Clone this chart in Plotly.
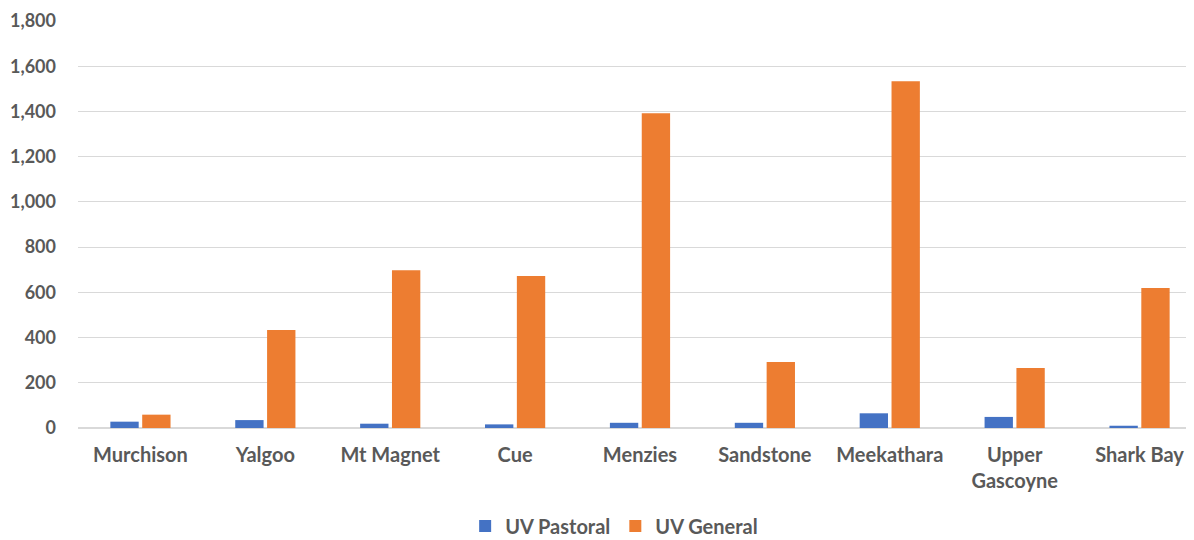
import plotly.graph_objects as go

categories = ["Murchison", "Yalgoo", "Mt Magnet", "Cue", "Menzies", "Sandstone",
              "Meekathara", "Upper<br>Gascoyne", "Shark Bay"]
uv_pastoral = [28, 35, 19, 16, 23, 23, 65, 49, 10]
uv_general = [59, 433, 698, 672, 1392, 292, 1534, 265, 619]
y_ticks = [0, 200, 400, 600, 800, 1000, 1200, 1400, 1600, 1800]

font_family = "Lato, Open Sans, sans-serif"
grey = "#595959"
fsize = 20

fig = go.Figure()
fig.add_trace(go.Bar(x=categories, y=uv_pastoral, name="UV Pastoral",
                     marker=dict(color="#4472C4", line=dict(width=0))))
fig.add_trace(go.Bar(x=categories, y=uv_general, name="UV General",
                     marker=dict(color="#ED7D31", line=dict(width=0))))

fig.update_layout(
    width=1194, height=540,
    barmode="group", bargap=0.49, bargroupgap=0.11,
    plot_bgcolor="white", paper_bgcolor="white",
    margin=dict(l=70, r=0, t=13, b=120, autoexpand=False),
    font=dict(family=font_family, size=fsize, color=grey),
    legend=dict(orientation="h", x=0.477, xanchor="center", y=-0.241, yanchor="middle",
                font=dict(family=font_family, size=fsize, color=grey, weight="bold"),
                itemwidth=30, tracegroupgap=0),
    showlegend=True,
)
fig.update_yaxes(range=[0, 1800], tickvals=y_ticks, tickformat=",",
                 showgrid=True, gridcolor="#d9d9d9", gridwidth=1,
                 zeroline=True, zerolinecolor="#d9d9d9", zerolinewidth=2,
                 showline=False, ticks="", ticklen=0, ticklabelstandoff=21,
                 automargin=False,
                 tickfont=dict(family=font_family, size=18, color=grey, weight="bold"))
fig.update_xaxes(range=[-0.5, 8.5], showline=False, ticks="", tickangle=0,
                 ticklabelstandoff=13, automargin=False,
                 tickfont=dict(family=font_family, size=fsize, color=grey, weight="bold"))

fig.write_html("out.html")
